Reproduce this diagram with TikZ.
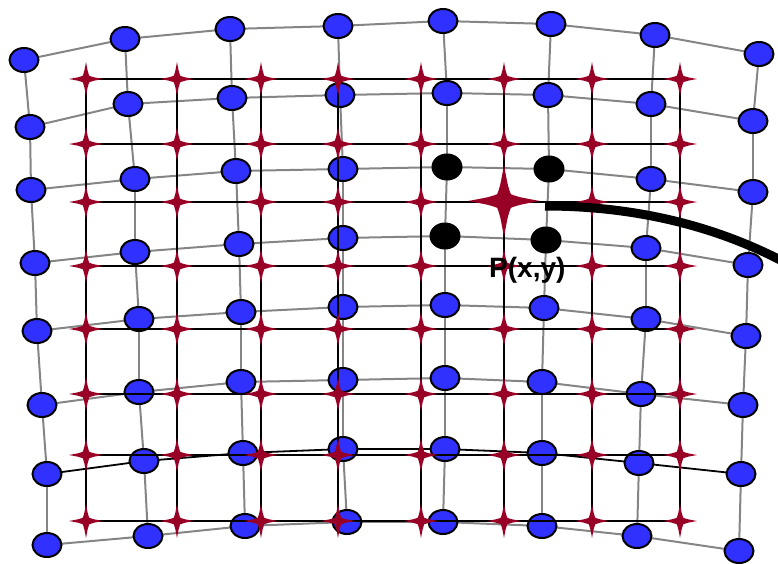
\documentclass[tikz,border=0pt]{standalone}
\usepackage{fontspec}
\setmainfont{Liberation Sans}
\usetikzlibrary{shapes.geometric}
\definecolor{dotblue}{HTML}{3030FF}
\definecolor{starcolor}{HTML}{990026}
\definecolor{meshgray}{HTML}{858585}
\pgfdeclarelayer{background}
\pgfsetlayers{background,main}
\newcommand{\sparkle}[2]{\fill[starcolor,shift={(#1)},scale=#2]
  (0,1) .. controls (.11,.4) .. (.19,.19) .. controls (.4,.11) .. (1,0)
  .. controls (.4,-.11) .. (.19,-.19) .. controls (.11,-.4) .. (0,-1)
  .. controls (-.11,-.4) .. (-.19,-.19) .. controls (-.4,-.11) .. (-1,0)
  .. controls (-.4,.11) .. (-.19,.19) .. controls (-.11,.4) .. (0,1) -- cycle;}

\begin{document}
\begin{tikzpicture}[x=1pt,y=-1pt,
  meshdot/.style={ellipse,draw=black,line width=2pt,fill=dotblue,
                  minimum width=29pt,minimum height=24pt,inner sep=0pt},
  heldot/.style={ellipse,fill=black,minimum width=31pt,minimum height=27pt,inner sep=0pt},
  meshline/.style={draw=meshgray,line width=2pt},
  gridline/.style={draw=black,line width=1.3pt}]
  \useasboundingbox (0,0) rectangle (778,563);

  % warped mesh
  \foreach \col/\x/\y in {1/24/60,2/125/39,3/230/29,4/338/26,5/443/21,6/551/24,7/655/35,8/759/54}
    \node[meshdot] (n1\col) at (\x,\y) {};
  \foreach \col/\x/\y in {1/30/127,2/128/104,3/232/98,4/340/95,5/447/93,6/548/95,7/651/104,8/753/121}
    \node[meshdot] (n2\col) at (\x,\y) {};
  \foreach \col/\x/\y/\look in {1/31/190/meshdot,2/135/179/meshdot,3/236/171/meshdot,4/343/169/meshdot,
                           5/447/167/heldot,6/549/169/heldot,7/651/179/meshdot,8/753/192/meshdot}
    \node[\look] (n3\col) at (\x,\y) {};
  \foreach \col/\x/\y/\look in {1/35/263/meshdot,2/135/252/meshdot,3/239/244/meshdot,4/343/238/meshdot,
                           5/445/236/heldot,6/546/240/heldot,7/646/248/meshdot,8/748/265/meshdot}
    \node[\look] (n4\col) at (\x,\y) {};
  \foreach \col/\x/\y in {1/37/331,2/139/319,3/241/312,4/343/307,5/445/305,6/544/308,7/646/319,8/746/336}
    \node[meshdot] (n5\col) at (\x,\y) {};
  \foreach \col/\x/\y in {1/42/405,2/139/392,3/241/382,4/343/380,5/445/378,6/542/382,7/641/394,8/743/405}
    \node[meshdot] (n6\col) at (\x,\y) {};
  \foreach \col/\x/\y in {1/47/474,2/144/461,3/243/453,4/343/449,5/445/449,6/542/453,7/639/463,8/741/474}
    \node[meshdot] (n7\col) at (\x,\y) {};
  \foreach \col/\x/\y in {1/47/545,2/148/536,3/245/526,4/347/522,5/443/522,6/542/526,7/637/536,8/739/551}
    \node[meshdot] (n8\col) at (\x,\y) {};

  \begin{pgfonlayer}{background}
    \foreach \row in {1,2,3,4,5,6,8}
      \foreach \col/\nxt in {1/2,2/3,3/4,4/5,5/6,6/7,7/8}
        \draw[meshline] (n\row\col.center) -- (n\row\nxt.center);
    \foreach \col/\nxt in {1/2,2/3,3/4,4/5,5/6,6/7,7/8}
      \draw[black,line width=1.8pt] (n7\col.center) -- (n7\nxt.center);
    \foreach \col in {1,...,8}
      \foreach \row/\nxt in {1/2,2/3,3/4,4/5,5/6,6/7,7/8}
        \draw[meshline] (n\row\col.center) -- (n\nxt\col.center);
  \end{pgfonlayer}

  % regular grid
  \foreach \y in {79,144,202,266,329,394,455,521}
    \draw[gridline] (86,\y) -- (680,\y);
  \foreach \x in {86,177,261,338,421,504,592,680}
    \draw[gridline] (\x,79) -- (\x,521);
  \foreach \x in {86,177,261,338,421,504,592,680}
    \foreach \y in {79,144,202,266,329,394,455,521}
      \sparkle{\x,\y}{17};
  \sparkle{504,201}{36}

  \coordinate (trail) at (545,206);
  \coordinate (exit) at (786,263);
  \draw[line width=9pt] (trail) .. controls (640,206) and (720,228) .. (exit);

  \node[font=\bfseries\fontsize{28}{28}\selectfont,inner sep=0pt,anchor=base west] (plabel) at (489,277) {P(x,y)};
\end{tikzpicture}
\end{document}
